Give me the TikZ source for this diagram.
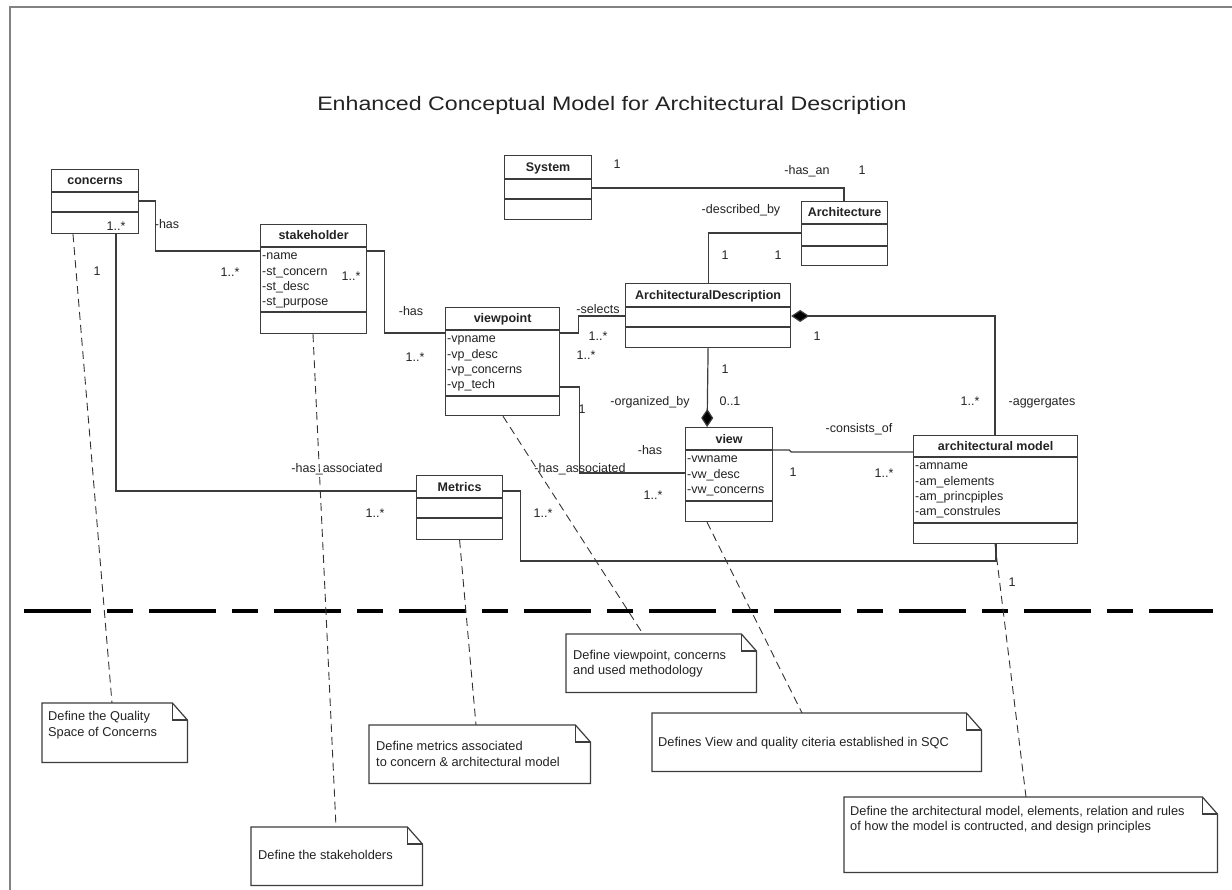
\documentclass[tikz,border=0pt]{standalone}
\usepackage{graphicx}
\usepackage{fontspec}
\setmainfont{Liberation Sans}
\usetikzlibrary{arrows.meta,calc}
\definecolor{ln}{RGB}{60,60,60}
\definecolor{tx}{RGB}{35,35,35}
\definecolor{fr}{RGB}{130,130,130}
\newcommand\umlcls[8]{%
  \node[box, minimum width=#4pt, minimum height=#5pt] (#1) at (#2,#3) {};
  \draw[sepl] ([yshift=-#6pt]#1.north west) -- ([yshift=-#6pt]#1.north east);
  \draw[sepl] ([yshift=-#7pt]#1.north west) -- ([yshift=-#7pt]#1.north east);
  \node[ctitle] (#1-t) at ($(#1.north)+(0,#6/2+4.5)$) {#8};
}
\newcommand\umlattrs[3]{%
  \foreach \a [count=\i] in {#3} {
    \node[cattr] (#1-a\i) at ($(#1.north west)+(2,#2+13+15.3*\i-15.3)$) {\a};
  }
}
\newcommand\umlnote[5]{%
  \node[nbox, minimum width=#4pt, minimum height=#5pt] (#1) at (#2,#3) {};
  \draw[nline] (#1.north west) -- ([xshift=-15pt]#1.north east) -- ([yshift=-17pt]#1.north east) -- (#1.south east) -- (#1.south west) -- cycle;
  \draw[nline] ([xshift=-15pt]#1.north east) -- ([xshift=-15pt,yshift=-17pt]#1.north east) -- ([yshift=-17pt]#1.north east);
}
\begin{document}
\begin{tikzpicture}[x=1pt,y=-1pt,
  box/.style={draw=ln, line width=1.2pt, fill=white, inner sep=0pt, anchor=north west},
  sepl/.style={draw=ln, line width=1.2pt},
  ctitle/.style={font=\fontsize{12.5}{15}\selectfont\bfseries, text=tx, inner sep=0pt, anchor=base},
  cattr/.style={font=\fontsize{12.5}{15}\selectfont, text=tx, inner sep=0pt, anchor=base west},
  lbl/.style={font=\fontsize{12.5}{15}\selectfont, text=tx, inner sep=0pt, anchor=base},
  ntext/.style={font=\fontsize{12.8}{15}\selectfont, text=tx, inner sep=0pt, anchor=base west},
  nbox/.style={inner sep=0pt, anchor=north west},
  nline/.style={draw=ln, line width=1.2pt, line join=miter},
  assoc/.style={draw=ln, line width=1.2pt},
  anchorline/.style={draw=black!80, line width=0.9pt, dash pattern=on 8pt off 5pt},
  comp/.style={draw=ln, line width=1.2pt, {Diamond[length=18pt,width=12pt,fill=black]}-},
]
\useasboundingbox (0,0) rectangle (1232,890);
\fill[white] (0,0) rectangle (1232,890);
% frame
\draw[fr, line width=2pt] (10,890) -- (10,7) -- (1232,7);
% title
\node[font=\fontsize{19.5}{23}\selectfont, text=tx, inner sep=0pt, anchor=base] (title) at (612,111) {\scalebox{1.19}[1]{Enhanced Conceptual Model for Architectural Description}};

% classes
\umlcls{concerns}{51}{169}{87}{64}{23}{43}{concerns}
\umlcls{stakeholder}{260}{224}{106}{109}{23}{88}{stakeholder}
\umlattrs{stakeholder}{23}{-name,-st\_concern,-st\_desc,-st\_purpose}
\umlcls{System}{504}{155}{87}{64}{24}{44}{System}
\umlcls{Architecture}{801}{201}{86}{64}{23}{45}{Architecture}
\umlcls{AD}{625}{283}{165}{64}{24}{44}{ArchitecturalDescription}
\umlcls{viewpoint}{445}{307}{114}{108}{23}{89}{viewpoint}
\umlattrs{viewpoint}{23}{-vpname,-vp\_desc,-vp\_concerns,-vp\_tech}
\umlcls{view}{685}{427}{87}{94}{23}{74}{view}
\umlattrs{view}{23}{-vwname,-vw\_desc,-vw\_concerns}
\umlcls{archmodel}{913}{435}{164}{108}{22}{88}{architectural model}
\umlattrs{archmodel}{22}{-amname,-am\_elements,-am\_princpiples,-am\_construles}
\umlcls{Metrics}{416}{475}{86}{64}{23}{43}{Metrics}

% associations
\draw[assoc] ([yshift=-32pt]concerns.north east) -- ++(16,0) |- ([yshift=-27pt]stakeholder.north west);
\draw[assoc] ([yshift=-27pt]stakeholder.north east) -- ++(17,0) |- ([yshift=-26pt]viewpoint.north west);
\draw[assoc] ([yshift=-26pt]viewpoint.north east) -- ++(18,0) |- ([yshift=-33pt]AD.north west);
\draw[assoc] ([yshift=-33pt]System.north east) -| ([xshift=43pt]Architecture.north west);
\draw[assoc] ([yshift=-32pt]Architecture.north west) -| (AD.north);
\draw[comp] ([xshift=-22pt]view.north) -- (AD.south);
\draw[comp] ([yshift=-33pt]AD.north east) -| ([xshift=82pt]archmodel.north west);
\draw[assoc] ([yshift=-80pt]viewpoint.north east) -- ++(19,0) |- ([yshift=-46pt]view.north west);
\draw[assoc] ([yshift=-23pt]view.north east) -- ++(16,0) -- ++(2,2) -- ([yshift=-17pt]archmodel.north west);
\draw[assoc] ([xshift=65pt]concerns.south west) |- ([yshift=-16pt]Metrics.north west);
\draw[assoc] ([yshift=-16pt]Metrics.north east) -- ++(17,0) -- ++(0,70) -| ([xshift=83pt]archmodel.south west);

% separator
\coordinate (sepL) at (24,611);
\coordinate (sepR) at (1213,611);
\draw[black, line width=3.5pt, dash pattern=on 67pt off 16pt on 26pt off 16pt] (sepL) -- (sepR);

% notes
\umlnote{nQ}{42}{703}{145}{59}
\node[ntext] (nQ1) at ([xshift=6pt,yshift=-17pt]nQ.north west) {Define the Quality};
\node[ntext] (nQ2) at ([xshift=6pt,yshift=-33pt]nQ.north west) {Space of Concerns};
\umlnote{nS}{251}{827}{171}{58}
\node[ntext] (nS1) at ([xshift=7pt,yshift=-32pt]nS.north west) {Define the stakeholders};
\umlnote{nM}{369}{725}{221}{58}
\node[ntext] (nM1) at ([xshift=7pt,yshift=-25pt]nM.north west) {Define metrics associated};
\node[ntext] (nM2) at ([xshift=7pt,yshift=-41pt]nM.north west) {to concern \& architectural model};
\umlnote{nV}{566}{634}{190}{58}
\node[ntext] (nV1) at ([xshift=7pt,yshift=-25pt]nV.north west) {Define viewpoint, concerns};
\node[ntext] (nV2) at ([xshift=7pt,yshift=-40pt]nV.north west) {and used methodology};
\umlnote{nW}{652}{713}{329}{58}
\node[ntext] (nW1) at ([xshift=6pt,yshift=-33pt]nW.north west) {Defines View and quality citeria established in SQC};
\umlnote{nA}{844}{797}{373}{75}
\node[ntext] (nA1) at ([xshift=6pt,yshift=-18pt]nA.north west) {Define the architectural model, elements, relation and rules};
\node[ntext] (nA2) at ([xshift=6pt,yshift=-33pt]nA.north west) {of how the model is contructed, and design principles};

% note anchors
\draw[anchorline] ([xshift=22pt]concerns.south west) -- ([xshift=70pt]nQ.north west);
\draw[anchorline] ([xshift=53pt]stakeholder.south west) -- ([xshift=85pt]nS.north west);
\draw[anchorline] ([xshift=58pt]viewpoint.south west) -- ([xshift=77pt]nV.north west);
\draw[anchorline] (Metrics.south) -- ([xshift=107pt]nM.north west);
\draw[anchorline] ([xshift=22pt]view.south west) -- ([xshift=150pt]nW.north west);
\draw[anchorline] ([xshift=82pt]archmodel.south west) -- ([xshift=182pt]nA.north west);

% labels
\node[lbl] (l1) at (167,229) {-has};
\node[lbl] (l2) at (116,231) {1..*};
\node[lbl] (l3) at (97,276) {1};
\node[lbl] (l4) at (230,277) {1..*};
\node[lbl] (l5) at (351,281) {1..*};
\node[lbl] (l6) at (411,316) {-has};
\node[lbl] (l7) at (415,362) {1..*};
\node[lbl] (l8) at (598,314) {-selects};
\node[lbl] (l9) at (598,341) {1..*};
\node[lbl] (l10) at (586,360) {1..*};
\node[lbl] (l11) at (725,374) {1};
\node[lbl] (l12) at (650,406) {-organized\_by};
\node[lbl] (l13) at (730,406) {0..1};
\node[lbl] (l14) at (817,341) {1};
\node[lbl] (l15) at (970,406) {1..*};
\node[lbl] (l16) at (1042,406) {-aggergates};
\node[lbl] (l17) at (859,433) {-consists\_of};
\node[lbl] (l18) at (650,455) {-has};
\node[lbl] (l19) at (582,414) {1};
\node[lbl] (l20) at (653,500) {1..*};
\node[lbl] (l21) at (793,476) {1};
\node[lbl] (l22) at (884,478) {1..*};
\node[lbl] (l23) at (337,472) {-has\_associated};
\node[lbl] (l24) at (375,517) {1..*};
\node[lbl] (l25) at (580,472) {-has\_associated};
\node[lbl] (l26) at (543,517) {1..*};
\node[lbl] (l27) at (1012,586) {1};
\node[lbl] (l28) at (617,169) {1};
\node[lbl] (l29) at (807,175) {-has\_an};
\node[lbl] (l30) at (862,175) {1};
\node[lbl] (l31) at (741,214) {-described\_by};
\node[lbl] (l32) at (725,260) {1};
\node[lbl] (l33) at (778,260) {1};
\end{tikzpicture}
\end{document}
